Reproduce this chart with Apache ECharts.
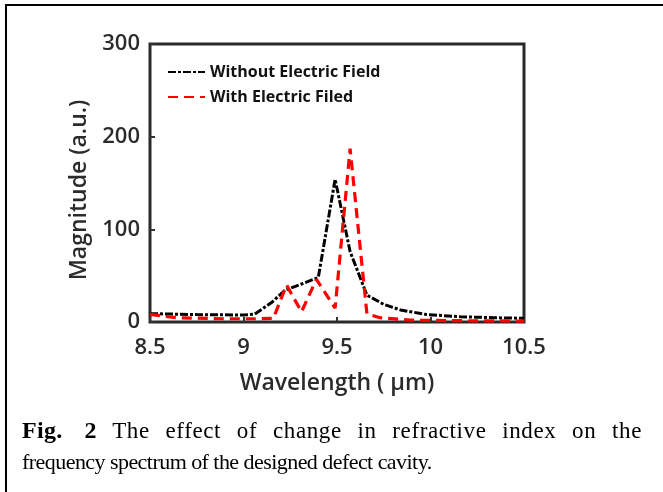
<!DOCTYPE html>
<html>
<head>
<meta charset="utf-8">
<script src="https://cdn.jsdelivr.net/npm/echarts@6/dist/echarts.min.js"></script>
<style>
  html, body { margin: 0; padding: 0; background: #fff; }
  #wrap { position: relative; width: 663px; height: 492px; overflow: hidden; }
  #frameTop { position: absolute; left: 5px; top: 4px; width: 660px; height: 2px; background: #000; }
  #frameLeft { position: absolute; left: 5px; top: 4px; width: 2px; height: 490px; background: #000; }
  #chart { position: absolute; left: 0; top: 0; width: 663px; height: 492px; }
  .cap { position: absolute; left: 22px; width: 620px; font-family: "Liberation Serif", "Times New Roman", serif;
         font-size: 22px; letter-spacing: -0.55px; line-height: 32px; color: #000; white-space: nowrap; }
  #cap1 { top: 414px; font-size: 23px; letter-spacing: 0.6px; text-align: justify; text-align-last: justify; white-space: normal; }
  #cap1 b { font-size: 24px; letter-spacing: 0.3px; }
  #cap2 { top: 446px; }
  .gap { display: inline-block; width: 22px; }
</style>
</head>
<body>
<div id="wrap">
  <div id="chart"></div>
  <div id="frameTop"></div>
  <div id="frameLeft"></div>
  <div class="cap" id="cap1"><b>Fig.</b><span class="gap"></span><b>2</b> The effect of change in refractive index on the</div>
  <div class="cap" id="cap2">frequency spectrum of the designed defect cavity.</div>
</div>
<script>
// 读图估计的数据
var blackX = [8.5, 8.75, 9.0, 9.06, 9.15, 9.22, 9.31, 9.40, 9.49, 9.57, 9.66, 9.75, 9.84, 9.98, 10.16, 10.34, 10.5];
var blackY = [9, 8, 7.5, 8.6, 21, 34, 41, 48, 154, 76, 29, 19, 13, 8, 5.7, 4.6, 4];

var redX = [8.5, 8.65, 8.9, 9.06, 9.16, 9.23, 9.31, 9.39, 9.49, 9.57, 9.66, 9.73, 9.89, 10.1, 10.3, 10.5];
var redY = [8.3, 4.5, 3.5, 3.5, 4, 40, 11, 46, 15, 187, 9, 4.6, 2, 1.5, 1.2, 1];

var seriesNames = ['Without Electric Field', 'With Electric Filed'];

function pairs(xs, ys) {
    var out = [];
    for (var i = 0; i < xs.length; i++) {
        out.push([xs[i], ys[i]]);
    }
    return out;
}

var tickFont = {
    color: '#2b2b2b',
    fontFamily: 'Open Sans',
    fontWeight: 600,
    fontSize: 22
};

var chart = echarts.init(document.getElementById('chart'));
var option = {
    animation: false,
    grid: {
        left: 150,
        right: 139,
        top: 44,
        bottom: 170,
        show: true,
        borderColor: '#2a2a2a',
        borderWidth: 3,
        backgroundColor: 'transparent'
    },
    legend: {
        orient: 'vertical',
        left: 167,
        top: 64,
        padding: 0,
        itemWidth: 37,
        itemHeight: 14,
        itemGap: 9,
        // 图例只画线，不画圆点
        itemStyle: { color: 'transparent', borderWidth: 0 },
        textStyle: {
            color: '#111',
            fontFamily: 'Open Sans',
            fontWeight: 'bold',
            fontSize: 16
        },
        data: seriesNames
    },
    xAxis: {
        type: 'value',
        min: 8.5,
        max: 10.5,
        interval: 0.5,
        name: 'Wavelength ( \u03bcm)',
        nameLocation: 'middle',
        nameGap: 50,
        nameTextStyle: Object.assign({}, tickFont, { fontSize: 23 }),
        axisLine: { show: false },
        axisTick: { show: true, inside: true, length: 5, lineStyle: { color: '#333', width: 2 } },
        axisLabel: Object.assign({ margin: 15 }, tickFont),
        splitLine: { show: false }
    },
    yAxis: {
        type: 'value',
        min: 0,
        max: 300,
        interval: 100,
        name: 'Magnitude (a.u.)',
        nameLocation: 'middle',
        nameGap: 52,
        nameTextStyle: Object.assign({}, tickFont, { fontSize: 23, padding: [0, 14, 0, 0] }),
        axisLine: { show: false },
        axisTick: { show: true, inside: true, length: 5, lineStyle: { color: '#333', width: 2 } },
        axisLabel: Object.assign({ margin: 10 }, tickFont),
        splitLine: { show: false }
    },
    series: [
        {
            name: seriesNames[0],
            type: 'line',
            data: pairs(blackX, blackY),
            symbol: 'none',
            lineStyle: { color: '#000', width: 3, type: [8, 2, 3, 2] },
            itemStyle: { color: '#000' },
            z: 3
        },
        {
            name: seriesNames[1],
            type: 'line',
            data: pairs(redX, redY),
            symbol: 'none',
            lineStyle: { color: '#ff0000', width: 3.2, type: [10, 6] },
            itemStyle: { color: '#ff0000' },
            z: 4
        }
    ]
};
chart.setOption(option);
</script>
</body>
</html>
